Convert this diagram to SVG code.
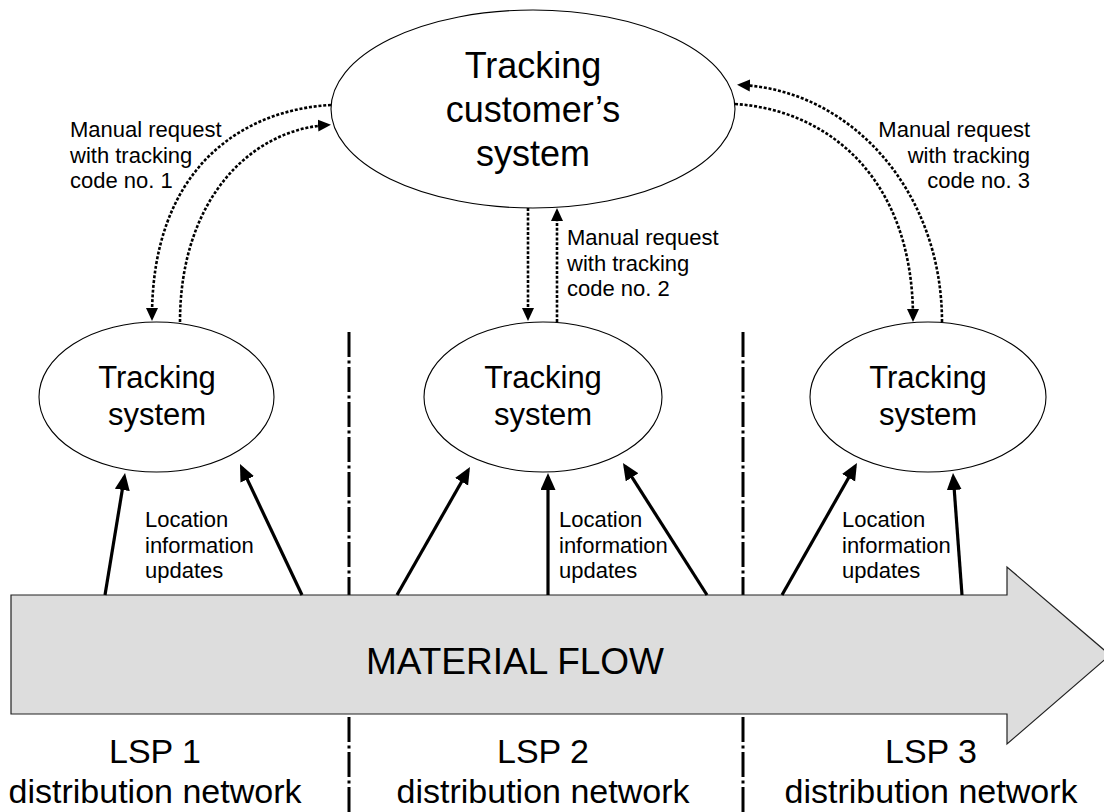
<svg xmlns="http://www.w3.org/2000/svg" width="1104" height="812" viewBox="0 0 1104 812">
<style>
  text { font-family: "Liberation Sans", Arial, sans-serif; fill: #000; }
  .node { fill: #fff; stroke: #000; stroke-width: 1.1; }
  .big { font-size: 36px; text-anchor: middle; }
  .mid { font-size: 31px; text-anchor: middle; }
  .lbl { font-size: 22px; }
  .end { text-anchor: end; }
  .lsp { font-size: 34px; text-anchor: middle; }
  .sep { stroke: #000; stroke-width: 3; stroke-dasharray: 25 3.5 3 3.5; fill: none; }
  .solid { stroke: #000; stroke-width: 3.2; fill: none; marker-end: url(#ah); }
  .dot { stroke: #000; stroke-width: 2.6; stroke-dasharray: 3 1.8; fill: none; marker-end: url(#dh); }
</style>
<defs>
  <marker id="ah" markerUnits="userSpaceOnUse" markerWidth="18" markerHeight="16" refX="13" refY="7.5" orient="auto">
    <path d="M0,0 L17,7.5 L0,15 z" fill="#000"/>
  </marker>
  <marker id="dh" markerUnits="userSpaceOnUse" markerWidth="14" markerHeight="13" refX="9" refY="6.25" orient="auto">
    <path d="M0,0.25 L13,6.25 L0,12.25 z" fill="#000"/>
  </marker>
</defs>
<rect width="1104" height="812" fill="#fff"/>

<g id="separators">
  <line class="sep" x1="349" y1="332" x2="349" y2="812"/>
  <line class="sep" x1="743" y1="332" x2="743" y2="812"/>
</g>

<g id="material-flow">
  <polygon points="11,595 1007,595 1007,567 1110,655 1007,744 1007,714 11,714" fill="#dddddd" stroke="#222" stroke-width="1.2"/>
  <text x="515" y="674" style="font-size:37px;text-anchor:middle">MATERIAL FLOW</text>
</g>

<g id="customer-system">
  <ellipse class="node" cx="533" cy="109" rx="202" ry="99"/>
  <text class="big" x="533" y="78">Tracking</text>
  <text class="big" x="533" y="122">customer’s</text>
  <text class="big" x="533" y="166">system</text>
</g>

<g id="tracking-system-1">
  <ellipse class="node" cx="156.5" cy="397" rx="117.5" ry="75"/>
  <text class="mid" x="157" y="388">Tracking</text>
  <text class="mid" x="157" y="425">system</text>
</g>
<g id="tracking-system-2">
  <ellipse class="node" cx="543" cy="397" rx="119" ry="75"/>
  <text class="mid" x="543" y="388">Tracking</text>
  <text class="mid" x="543" y="425">system</text>
</g>
<g id="tracking-system-3">
  <ellipse class="node" cx="928" cy="397" rx="118" ry="75"/>
  <text class="mid" x="928" y="388">Tracking</text>
  <text class="mid" x="928" y="425">system</text>
</g>

<g id="connectors">
  <!-- manual requests LSP 1 -->
  <path class="dot" d="M331,105 C240,110 152,170 152,317"/>
  <path class="dot" d="M180,322 C180,200 250,130 327,125"/>
  <!-- manual requests LSP 2 -->
  <path class="dot" d="M528,208 L528,317"/>
  <path class="dot" d="M557,322 L557,212"/>
  <!-- manual requests LSP 3 -->
  <path class="dot" d="M942,322 C942,190 850,90 741,85"/>
  <path class="dot" d="M735,104 C830,110 913,180 913,318"/>
  <!-- location updates -->
  <line class="solid" x1="105" y1="595" x2="124.4" y2="477"/>
  <line class="solid" x1="302" y1="595" x2="241.7" y2="467.6"/>
  <line class="solid" x1="397" y1="595" x2="468" y2="470.5"/>
  <line class="solid" x1="548" y1="595" x2="548" y2="477"/>
  <line class="solid" x1="707" y1="595" x2="625.1" y2="466.4"/>
  <line class="solid" x1="782" y1="595" x2="855" y2="466.5"/>
  <line class="solid" x1="962" y1="595" x2="953.3" y2="477"/>
</g>

<g id="labels">
  <text class="lbl" x="70" y="137">Manual request</text>
  <text class="lbl" x="70" y="162.5">with tracking</text>
  <text class="lbl" x="70" y="188">code no. 1</text>

  <text class="lbl" x="567" y="245">Manual request</text>
  <text class="lbl" x="567" y="270.5">with tracking</text>
  <text class="lbl" x="567" y="296">code no. 2</text>

  <text class="lbl end" x="1030" y="137">Manual request</text>
  <text class="lbl end" x="1030" y="162.5">with tracking</text>
  <text class="lbl end" x="1030" y="188">code no. 3</text>

  <text class="lbl" x="145" y="527">Location</text>
  <text class="lbl" x="145" y="552.5">information</text>
  <text class="lbl" x="145" y="578">updates</text>

  <text class="lbl" x="559" y="527">Location</text>
  <text class="lbl" x="559" y="552.5">information</text>
  <text class="lbl" x="559" y="578">updates</text>

  <text class="lbl" x="842" y="527">Location</text>
  <text class="lbl" x="842" y="552.5">information</text>
  <text class="lbl" x="842" y="578">updates</text>

  <text class="lsp" x="155" y="763">LSP 1</text>
  <text class="lsp" x="155" y="803">distribution network</text>
  <text class="lsp" x="543" y="763">LSP 2</text>
  <text class="lsp" x="543" y="803">distribution network</text>
  <text class="lsp" x="931" y="763">LSP 3</text>
  <text class="lsp" x="931" y="803">distribution network</text>
</g>
</svg>
